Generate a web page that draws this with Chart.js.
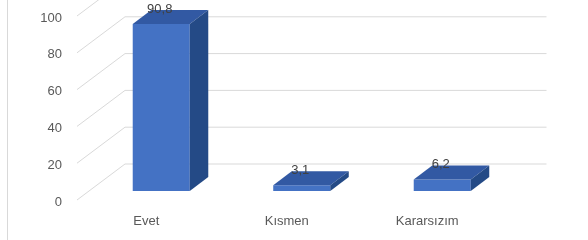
<!DOCTYPE html>
<html>
<head>
<meta charset="utf-8">
<script src="https://cdn.jsdelivr.net/npm/chart.js@4"></script>
<style>
html,body{margin:0;padding:0;background:#fff;}
#wrap{width:588px;height:240px;position:relative;}
</style>
</head>
<body>
<div id="wrap"><canvas id="c" width="588" height="240"></canvas></div>
<script>
const categories = ["Evet", "Kısmen", "Kararsızım"];
const values = [90.8, 3.1, 6.2];
const valueLabels = ["90,8", "3,1", "6,2"];
const yTicks = [0, 20, 40, 60, 80, 100];

const FONT = "'Liberation Sans', Arial, sans-serif";
const DEPTH_X = 18.5, DEPTH_Y = -14;

const walls = {
  id: 'walls',
  beforeDraw(chart) {
    const ctx = chart.ctx;
    ctx.save();
    ctx.fillStyle = '#fff';
    ctx.fillRect(0, 0, chart.width, chart.height);
    ctx.strokeStyle = '#d9d9d9';
    ctx.lineWidth = 1;
    ctx.beginPath();
    ctx.moveTo(7.5, 0);
    ctx.lineTo(7.5, chart.height);
    ctx.stroke();
    ctx.restore();
  },
  beforeDatasetsDraw(chart) {
    const ctx = chart.ctx;
    const ys = chart.scales.y;
    const a = chart.chartArea;
    const fx = a.left - 14, bx = a.left + 34, ex = a.right + 34;
    ctx.save();
    ctx.strokeStyle = '#d9d9d9';
    ctx.lineWidth = 1;
    yTicks.forEach(v => {
      const p = ys.getPixelForValue(v);
      ctx.beginPath();
      ctx.moveTo(fx, p + 9);
      ctx.lineTo(bx, p - 27);
      ctx.lineTo(ex, p - 27);
      ctx.stroke();
    });
    ctx.restore();
  },
  afterDatasetsDraw(chart) {
    const ctx = chart.ctx;
    const meta = chart.getDatasetMeta(0);
    ctx.save();
    meta.data.forEach((bar, i) => {
      const { x, y, base, width } = bar.getProps(['x', 'y', 'base', 'width'], true);
      const l = x - width / 2, r = x + width / 2;
      ctx.fillStyle = '#3259a3';
      ctx.beginPath();
      ctx.moveTo(l, y);
      ctx.lineTo(r, y);
      ctx.lineTo(r + DEPTH_X, y + DEPTH_Y);
      ctx.lineTo(l + DEPTH_X, y + DEPTH_Y);
      ctx.closePath();
      ctx.fill();
      ctx.fillStyle = '#244a86';
      ctx.beginPath();
      ctx.moveTo(r, y);
      ctx.lineTo(r + DEPTH_X, y + DEPTH_Y);
      ctx.lineTo(r + DEPTH_X, base + DEPTH_Y);
      ctx.lineTo(r, base);
      ctx.closePath();
      ctx.fill();
      ctx.fillStyle = '#404040';
      ctx.font = '13px ' + FONT;
      ctx.textAlign = 'center';
      ctx.textBaseline = 'middle';
      ctx.fillText(valueLabels[i], x - 1.5, y - 15);
    });
    ctx.restore();
  }
};

new Chart(document.getElementById('c'), {
  type: 'bar',
  data: {
    labels: categories,
    datasets: [{
      data: values,
      backgroundColor: '#4472c4',
      borderWidth: 0,
      categoryPercentage: 1,
      barPercentage: 0.406
    }]
  },
  options: {
    responsive: false,
    animation: false,
    devicePixelRatio: 1,
    layout: { padding: { top: 7, right: 75.5, left: 0, bottom: 0 } },
    plugins: { legend: { display: false }, tooltip: { enabled: false } },
    scales: {
      x: {
        grid: { display: false, drawTicks: false },
        border: { display: false },
        ticks: {
          color: '#595959',
          font: { family: FONT, size: 13 },
          padding: 23,
          labelOffset: -15,
          maxRotation: 0
        },
        afterFit(s) { s.height = 49; s.paddingLeft = 0; s.paddingRight = 0; }
      },
      y: {
        min: 0,
        max: 100,
        grid: { display: false, drawTicks: false },
        border: { display: false },
        afterBuildTicks(s) { s.ticks = yTicks.map(v => ({ value: v })); },
        ticks: {
          color: '#595959',
          font: { family: FONT, size: 13 },
          padding: 29,
          labelOffset: 11
        },
        afterFit(s) { s.width = 91; s.paddingTop = 0; s.paddingBottom = 0; }
      }
    }
  },
  plugins: [walls]
});
</script>
</body>
</html>
